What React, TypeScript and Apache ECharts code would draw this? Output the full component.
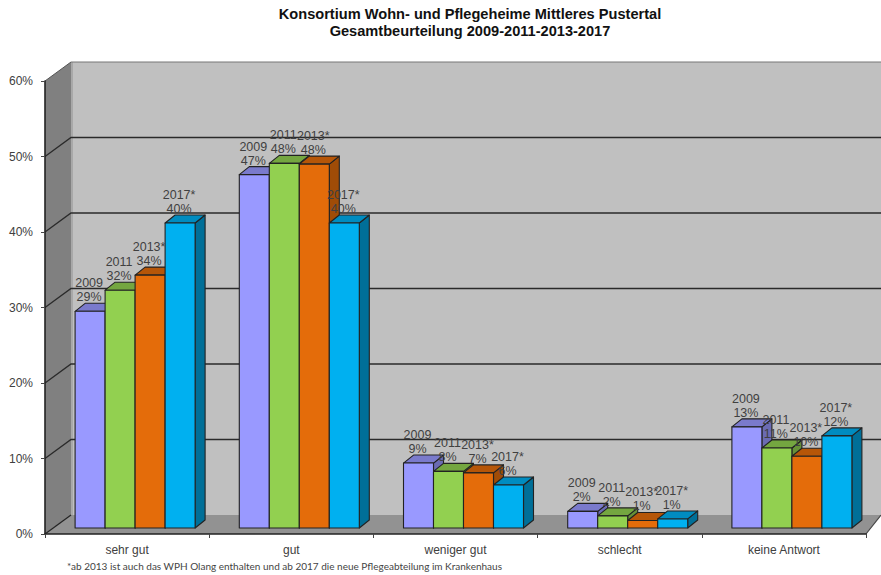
import React, { useEffect, useRef } from "react";
import * as echarts from "echarts";

const categories = ["sehr gut", "gut", "weniger gut", "schlecht", "keine Antwort"];
const years = ["2009", "2011", "2013*", "2017*"];
const values2009 = [28.7, 46.8, 8.6, 2.2, 13.4];
const values2011 = [31.5, 48.3, 7.5, 1.6, 10.6];
const values2013 = [33.5, 48.2, 7.3, 1.0, 9.5];
const values2017 = [40.4, 40.4, 5.7, 1.2, 12.2];
const allValues = [values2009, values2011, values2013, values2017];
const yTicks = [10, 20, 30, 40, 50];
const titleLines = ["Konsortium Wohn- und Pflegeheime Mittleres Pustertal", "Gesamtbeurteilung 2009-2011-2013-2017"];
const footnote = "*ab 2013 ist auch das WPH Olang enthalten und ab 2017 die neue Pflegeabteilung im Krankenhaus";

const frontColors = ["#9999FF", "#92D050", "#E46C0A", "#00B0F0"];
const topColors = ["#7A7ACC", "#74A640", "#B65608", "#008CC0"];
const sideColors = ["#6B6BB3", "#669138", "#A04C07", "#006F98"];
const EDGE = "#222222";
const TEXT = "#404040";
const FONT = '"Liberation Sans", Arial, sans-serif';

// Oblique projection of the 3D box
const WALL_DX = 26;
const WALL_DY = -19;
const BAR_DX = 8;
const BAR_DY = -6;
const BAR_W = 30;
const DEPTH_X = 10;
const DEPTH_Y = -8;

const renderWalls = (_p: any, api: any) => {
  const [x0, y0] = api.coord([0, 0]).map((v: number, i: number) => (i === 0 ? v - api.size([1, 0])[0] / 2 : v));
  const yTop = api.coord([0, 60])[1];
  const W = api.getWidth();
  const x1 = x0 + api.size([1, 0])[0] * categories.length;
  const bx = x0 + WALL_DX;
  const by = y0 + WALL_DY;
  const bTop = yTop + WALL_DY;
  return {
    type: "group",
    children: [
      { type: "rect", shape: { x: bx, y: bTop, width: W - bx, height: by - bTop }, style: { fill: "#C0C0C0" } },
      { type: "polygon", shape: { points: [[x0, yTop], [bx, bTop], [bx, by], [x0, y0]] }, style: { fill: "#808080" } },
      { type: "polygon", shape: { points: [[x0, y0], [bx, by], [W, by], [x1, y0]] }, style: { fill: "#929292" } },
      { type: "line", shape: { x1: bx + 1, y1: bTop, x2: bx + 1, y2: by }, style: { stroke: "#A8A8A8", lineWidth: 2 } },
      { type: "line", shape: { x1: bx, y1: bTop, x2: W, y2: bTop }, style: { stroke: "#777777", lineWidth: 1 } },
      { type: "line", shape: { x1: x0, y1: yTop, x2: bx, y2: bTop }, style: { stroke: "#555555", lineWidth: 1 } },
      { type: "line", shape: { x1: x0, y1: y0, x2: bx, y2: by }, style: { stroke: "#222222", lineWidth: 1.2 } },
      { type: "line", shape: { x1: x1, y1: y0, x2: W, y2: by }, style: { stroke: "#444444", lineWidth: 1.2 } },
    ],
  };
};

const renderGridLine = (_p: any, api: any) => {
  const band = api.size([1, 0])[0];
  const [cx, y] = api.coord([0, api.value(1)]);
  const x0 = cx - band / 2;
  const W = api.getWidth();
  return {
    type: "polyline",
    shape: { points: [[x0, y], [x0 + WALL_DX, y + WALL_DY], [W, y + WALL_DY]] },
    style: { fill: "none", stroke: "#2a2a2a", lineWidth: 1.3 },
  };
};

const barX = (api: any, s: number) => api.coord([api.value(0), 0])[0] + BAR_DX + (s - 2) * BAR_W;

const renderBar = (s: number) => (_p: any, api: any) => {
  const x = barX(api, s);
  const yBase = api.coord([0, 0])[1] + BAR_DY;
  const yTop = api.coord([0, api.value(1)])[1] + BAR_DY;
  const line = { stroke: EDGE, lineWidth: 1.1, lineJoin: "round" };
  return {
    type: "group",
    children: [
      {
        type: "polygon",
        shape: { points: [[x + BAR_W, yTop], [x + BAR_W + DEPTH_X, yTop + DEPTH_Y], [x + BAR_W + DEPTH_X, yBase + DEPTH_Y], [x + BAR_W, yBase]] },
        style: { fill: sideColors[s], ...line },
      },
      {
        type: "polygon",
        shape: { points: [[x, yTop], [x + DEPTH_X, yTop + DEPTH_Y], [x + BAR_W + DEPTH_X, yTop + DEPTH_Y], [x + BAR_W, yTop]] },
        style: { fill: topColors[s], ...line },
      },
      { type: "rect", shape: { x, y: yTop, width: BAR_W, height: yBase - yTop }, style: { fill: frontColors[s], ...line } },
    ],
  };
};

const renderLabel = (s: number) => (_p: any, api: any) => {
  const x = barX(api, s) + BAR_W / 2 - 1;
  const yTop = api.coord([0, api.value(1)])[1] + BAR_DY;
  return {
    type: "text",
    style: {
      text: `${years[s]}\n${Math.round(api.value(1))}%`,
      x,
      y: yTop - 7,
      align: "center",
      verticalAlign: "bottom",
      fill: TEXT,
      font: `12.5px ${FONT}`,
      lineHeight: 14,
    },
  };
};

export default function App() {
  const ref = useRef<HTMLDivElement>(null);
  useEffect(() => {
    document.body.style.margin = "0";
    const chart = echarts.init(ref.current!, undefined, { renderer: "svg" });
    const idx = categories.map((_, i) => i);
    chart.setOption({
      animation: false,
      backgroundColor: "#ffffff",
      title: {
        text: titleLines.join("\n"),
        left: 465,
        top: 0,
        textAlign: "center",
        textStyle: { fontFamily: FONT, fontSize: 14.6, fontWeight: "bold", color: "#111111", lineHeight: 17 },
      },
      grid: { left: 45, right: 15, top: 81, bottom: 41 },
      xAxis: {
        type: "category",
        data: categories,
        z: 10,
        axisLine: { lineStyle: { color: "#222222", width: 1.6 } },
        axisTick: { show: true, length: 4, lineStyle: { color: "#444444" } },
        axisLabel: { color: TEXT, fontFamily: FONT, fontSize: 12, margin: 10 },
      },
      yAxis: {
        type: "value",
        min: 0,
        max: 60,
        interval: 10,
        z: 10,
        splitLine: { show: false },
        axisLine: { show: true, lineStyle: { color: "#222222", width: 1.6 } },
        axisTick: { show: true, length: 4, lineStyle: { color: "#444444" } },
        axisLabel: { color: TEXT, fontFamily: FONT, fontSize: 12, margin: 12, formatter: "{value}%" },
      },
      series: [
        { type: "custom", silent: true, z: 1, clip: false, data: [[0, 0]], renderItem: renderWalls },
        { type: "custom", silent: true, z: 2, clip: false, data: yTicks.map((t) => [0, t]), renderItem: renderGridLine },
        ...years.map((y, s) => ({
          type: "custom",
          name: y,
          silent: true,
          z: 3,
          clip: false,
          encode: { x: 0, y: 1 },
          data: idx.map((i) => [i, allValues[s][i]]),
          renderItem: renderBar(s),
        })),
        ...years.map((y, s) => ({
          type: "custom",
          name: y + " label",
          silent: true,
          z: 5,
          clip: false,
          encode: { x: 0, y: 1 },
          data: idx.map((i) => [i, allValues[s][i]]),
          renderItem: renderLabel(s),
        })),
      ],
      graphic: [
        {
          type: "text",
          left: 67,
          top: 561,
          style: { text: footnote, fill: "#444444", font: '10px Lato, "Noto Sans", sans-serif' },
        },
      ],
    });
    return () => chart.dispose();
  }, []);
  return <div ref={ref} style={{ position: "fixed", left: 0, top: 0, width: 881, height: 575 }} />;
}
